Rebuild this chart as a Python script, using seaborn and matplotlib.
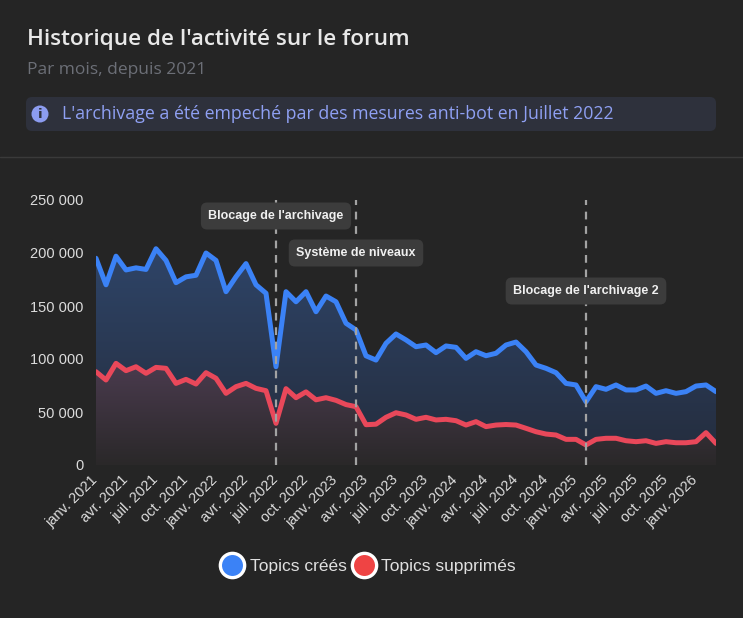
import numpy as np
import pandas as pd
import matplotlib
matplotlib.use("Agg")
import matplotlib.pyplot as plt
import seaborn as sns
from matplotlib.patches import FancyBboxPatch, Circle
from matplotlib.lines import Line2D
from matplotlib.transforms import IdentityTransform
from matplotlib.ticker import FuncFormatter

# ---------------- data ----------------
month_labels = ["janv. 2021", "avr. 2021", "juil. 2021", "oct. 2021",
                "janv. 2022", "avr. 2022", "juil. 2022", "oct. 2022",
                "janv. 2023", "avr. 2023", "juil. 2023", "oct. 2023",
                "janv. 2024", "avr. 2024", "juil. 2024", "oct. 2024",
                "janv. 2025", "avr. 2025", "juil. 2025", "oct. 2025",
                "janv. 2026"]

topics_crees = [195000, 170000, 197000, 184000, 186000, 184500, 204000, 193000, 172000, 177500,
                179000, 200000, 193000, 163500, 177600, 190000, 170000, 162000, 92700, 163500,
                154000, 163500, 144600, 159400, 154000, 133700, 127400, 103000, 99000, 114800,
                123600, 118000, 111600, 113200, 106000, 112300, 111000, 100600, 106900, 103100,
                105400, 113200, 116000, 106900, 94300, 91200, 87100, 77000, 75500, 59700,
                73900, 71400, 75500, 70800, 70800, 74500, 67600, 70100, 67600, 69200,
                74500, 75500, 69200]

topics_supprimes = [88000, 80200, 95900, 89000, 92700, 86500, 92100, 91200, 77000, 80800,
                    76400, 87100, 81800, 67600, 73900, 77000, 72300, 70100, 39300, 72000,
                    63500, 69000, 61500, 63500, 61000, 57000, 55000, 38000, 38500, 45000,
                    49300, 47200, 43100, 45000, 42500, 43100, 41800, 37700, 40900, 36200,
                    37700, 38200, 37700, 34600, 31400, 29200, 28300, 24200, 24200, 18900,
                    24200, 25200, 25200, 22900, 22000, 22900, 20400, 22000, 21000, 21000,
                    22000, 30500, 20400]

series_names = ["Topics créés", "Topics supprimés"]
event_months = [18, 26, 49]
event_labels = ["Blocage de l'archivage", "Système de niveaux", "Blocage de l'archivage 2"]

title = "Historique de l'activité sur le forum"
subtitle = "Par mois, depuis 2021"
info_text = "L'archivage a été empeché par des mesures anti-bot en Juillet 2022"

# ---------------- style ----------------
BG = "#252525"
BLUE = "#3b82f6"
RED = "#e9485a"
W, H = 743, 618

sns.set_theme(style="dark")
plt.rcParams["font.family"] = ["Liberation Sans", "DejaVu Sans"]

months = np.arange(len(topics_crees))
df = pd.DataFrame({
    "mois": np.concatenate([months, months]),
    "valeur": np.concatenate([topics_crees, topics_supprimes]),
    "serie": [series_names[0]] * len(months) + [series_names[1]] * len(months),
})

fig = plt.figure(figsize=(W / 100, H / 100), dpi=100, facecolor=BG)
ax = fig.add_axes([96 / W, (H - 465) / H, (716 - 96) / W, (465 - 200) / H])
ax.set_facecolor(BG)

XMAX = len(months) - 1
YMAX = 250000

# gradient fills
def gradient_fill(yvals, c_top, c_bot, vtop, z):
    poly = ax.fill_between(months, yvals, 0, color="none", lw=0)
    n = 256
    t = np.linspace(0, 1, n)[:, None]
    top = np.array(c_top) / 255.0
    bot = np.array(c_bot) / 255.0
    rgb = bot + (top - bot) * t
    img = np.dstack([rgb[:, 0:1].repeat(2, 1), rgb[:, 1:2].repeat(2, 1), rgb[:, 2:3].repeat(2, 1)])
    im = ax.imshow(img, extent=[0, XMAX, 0, vtop], origin="lower", aspect="auto", zorder=z,
                   interpolation="bilinear")
    im.set_clip_path(poly.get_paths()[0], transform=ax.transData)

gradient_fill(topics_crees, (49, 74, 114), (36, 44, 60), YMAX, 1)
gradient_fill(topics_supprimes, (76, 60, 80), (42, 40, 41), 100000, 1.5)

sns.lineplot(data=df, x="mois", y="valeur", hue="serie", palette=[BLUE, RED],
             linewidth=3.6, ax=ax, legend=False, zorder=3,
             solid_joinstyle="round", solid_capstyle="round")

for m, lab, ypix in zip(event_months, event_labels, [216, 253, 291]):
    ax.axvline(m, ymin=0, ymax=1, color="#a3a3a3", lw=1.6, ls=(0, (3.5, 3)), zorder=4)
    yv = (465 - ypix) / 265 * YMAX
    ax.text(m, yv, lab, ha="center", va="center", fontsize=9, fontweight="bold",
            color="#f0f0f0", zorder=6,
            bbox=dict(boxstyle="round,pad=0.6,rounding_size=0.5", fc="#3c3c3c", ec="none"))

ax.set_xlim(0, XMAX)
ax.set_ylim(0, YMAX)
ax.set_xticks(np.arange(0, len(month_labels) * 3, 3))
ax.set_xticklabels(month_labels, rotation=45, ha="right", va="center", rotation_mode="anchor")
ax.set_yticks(np.arange(0, YMAX + 1, 50000))
ax.yaxis.set_major_formatter(FuncFormatter(lambda v, p: f"{v:,.0f}".replace(",", " ")))
ax.tick_params(axis="x", length=0, pad=9, labelsize=10.5, labelcolor="#dcdcdc")
ax.tick_params(axis="y", length=0, pad=9, labelsize=10.5, labelcolor="#dcdcdc")
ax.set_xlabel("")
ax.set_ylabel("")
ax.grid(False)
for s in ax.spines.values():
    s.set_visible(False)

# ---------------- header ----------------
def fy(y):
    return H - y

fig.text(27 / W, fy(40) / H, title, ha="left", va="center", fontsize=16.2,
         family=["Open Sans", "DejaVu Sans"], fontweight="semibold", color="#e8e8e8")
fig.text(27 / W, fy(70) / H, subtitle, ha="left", va="center", fontsize=12.5,
         family=["Open Sans", "DejaVu Sans"], color="#6c6f77")

box = FancyBboxPatch((26, fy(131)), 716 - 26, 34, boxstyle="round,pad=0,rounding_size=6",
                     fc="#2e313c", ec="none", transform=IdentityTransform())
fig.add_artist(box)
icon = Circle((40, fy(114)), 8.5, fc="#8c9cf0", ec="none", transform=IdentityTransform())
fig.add_artist(icon)
fig.text(40 / W, fy(114) / H, "i", ha="center", va="center", fontsize=9.5, fontweight="bold",
         family=["DejaVu Sans"], color="#2e313c")
fig.text(62 / W, fy(114) / H, info_text, ha="left", va="center", fontsize=12.8,
         family=["Open Sans", "DejaVu Sans"], color="#8fa0f3")

sep = Line2D([0, W], [fy(157), fy(157)], color="#3a3a3a", lw=1, transform=IdentityTransform())
fig.add_artist(sep)

# ---------------- legend ----------------
handles = [Line2D([], [], ls="none", marker="o", markersize=17.5, markerfacecolor=c,
                  markeredgecolor="white", markeredgewidth=2.4) for c in [BLUE, "#ef4444"]]
leg = fig.legend(handles, series_names, loc="center", bbox_to_anchor=(368 / W, fy(566) / H),
                 ncol=2, frameon=False, fontsize=12.5, labelcolor="#e0e0e0",
                 handletextpad=0.3, columnspacing=0.3, handlelength=1.4)

fig.savefig("out.png", dpi=100, facecolor=BG)
